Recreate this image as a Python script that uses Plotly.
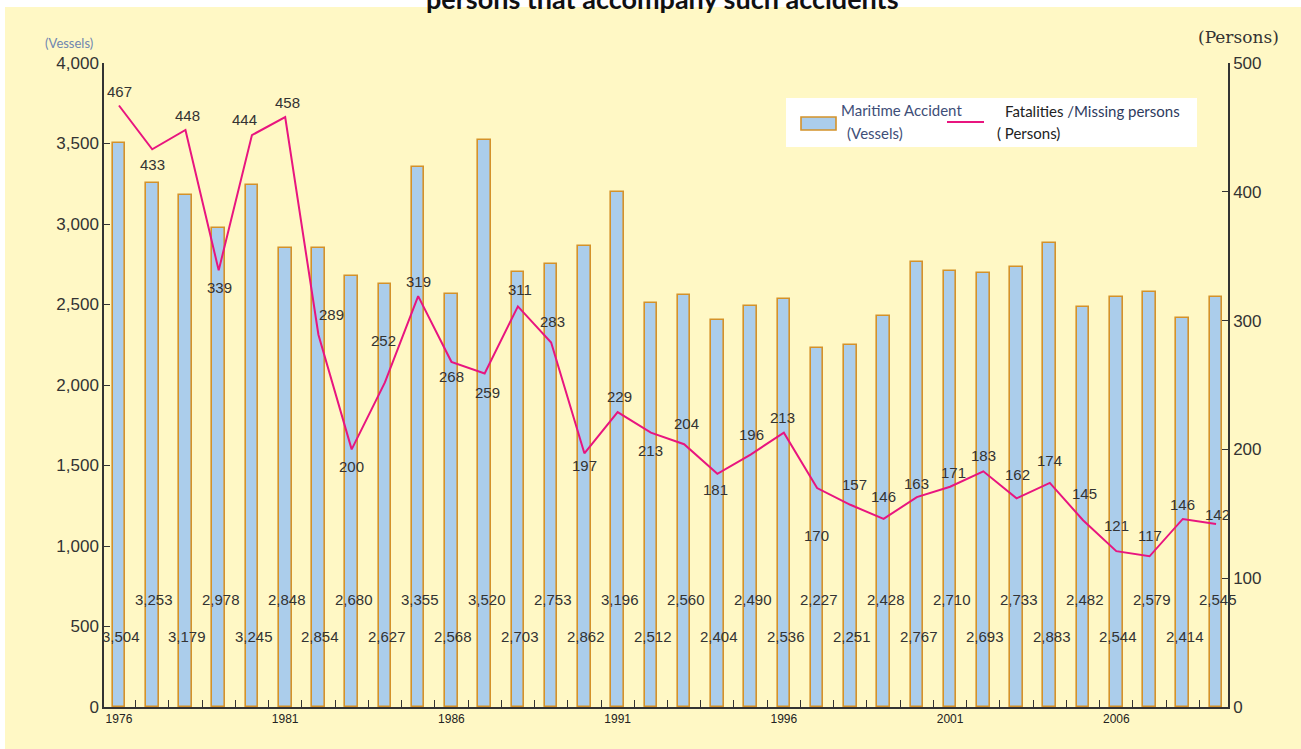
import plotly.graph_objects as go

years = list(range(1976, 2010))
vessels = [3504, 3253, 3179, 2978, 3245, 2848, 2854, 2680, 2627, 3355,
           2568, 3520, 2703, 2753, 2862, 3196, 2512, 2560, 2404, 2490,
           2536, 2227, 2251, 2428, 2767, 2710, 2693, 2733, 2883, 2482,
           2544, 2579, 2414, 2545]
fatalities = [467, 433, 448, 339, 444, 458, 289, 200, 252, 319,
              268, 259, 311, 283, 197, 229, 213, 204, 181, 196,
              213, 170, 157, 146, 163, 171, 183, 162, 174, 145,
              121, 117, 146, 142]
year_ticks = [1976, 1981, 1986, 1991, 1996, 2001, 2006]
vessel_ticks = [0, 500, 1000, 1500, 2000, 2500, 3000, 3500, 4000]
person_ticks = [0, 100, 200, 300, 400, 500]

# label placement (pixel offsets from the line point) -- layout only
fat_label_offsets = [(1, -14), (0, 15), (2, -14), (1, 17), (-7, -16), (2, -15),
                     (13, -20), (0, 17), (-1, -42), (0, -15), (0, 15), (3, 19),
                     (2, -17), (1, -21), (0, 12), (2, -16), (0, 18), (2, -21),
                     (-2, 16), (1, -20), (-1, -15), (-1, 47), (4, -20), (0, -22),
                     (0, -14), (3, -14), (0, -16), (1, -24), (0, -22), (1, -27),
                     (0, -26), (0, -21), (0, -14), (1, -10)]

L, R, T, B = 104, 73, 63, 42
W, H = 1301, 749
PW, PH = W - L - R, H - T - B


def px(x):
    return (x - L) / PW


def py(y):
    return (H - B - y) / PH


CREAM = "#FFF8C5"
BAR_FILL = "#ABCDEB"
BAR_LINE = "#D4922A"
LINE_COL = "#E8157F"
TXT = "#333333"

fig = go.Figure()
fig.add_trace(go.Bar(x=years, y=vessels, width=0.38,
                     marker=dict(color=BAR_FILL, line=dict(color=BAR_LINE, width=1.6)),
                     name="Maritime Accident (Vessels)", showlegend=False))
fig.add_trace(go.Scatter(x=years, y=fatalities, yaxis="y2", mode="lines",
                         line=dict(color=LINE_COL, width=2),
                         name="Fatalities/Missing persons (Persons)", showlegend=False))

ann = []
# bar value labels, alternating low / high rows
for i, (yr, v) in enumerate(zip(years, vessels)):
    ann.append(dict(x=yr, y=435 if i % 2 == 0 else 665, xref="x", yref="y",
                    text=f"{v:,}", showarrow=False, xshift=2,
                    xanchor="center", yanchor="middle",
                    font=dict(family="Liberation Sans, Arial", size=15, color=TXT)))
# fatality labels
for (yr, f), (dx, dy) in zip(zip(years, fatalities), fat_label_offsets):
    ann.append(dict(x=yr, y=f, xref="x", yref="y2", text=str(f), showarrow=False,
                    xshift=dx, yshift=-dy, xanchor="center", yanchor="middle",
                    font=dict(family="Liberation Sans, Arial", size=15, color=TXT)))


def pa(x, y, text, size, color, family="Lato", xanchor="center"):
    return dict(x=px(x), y=py(y), xref="paper", yref="paper", text=text,
                showarrow=False, xanchor=xanchor, yanchor="middle",
                font=dict(family=family, size=size, color=color))


# axis unit labels
ann.append(pa(69, 43, "(Vessels)", 13, "#6F86B0"))
ann.append(pa(1238, 37, "(Persons)", 17, TXT, family="DejaVu Serif"))
# cut-off title
ann.append(pa(662, -2, "<b>persons that accompany such accidents</b>", 27, "#111111"))

# custom legend
ann += [
    pa(839, 110, "Maritime Accident", 15, "#3E4E78", xanchor="left"),
    pa(845, 133, "(Vessels)", 15, "#3E4E78", xanchor="left"),
    pa(1003, 111, "<span style='color:#222'>Fatalities</span> /Missing persons", 15,
       "#2E3A5E", xanchor="left"),
    pa(995, 133, "( Persons)", 15, "#222222", xanchor="left"),
]

shapes = [
    dict(type="rect", xref="paper", yref="paper", x0=px(5), x1=px(1301), y0=py(7), y1=py(749),
         fillcolor=CREAM, line=dict(width=0), layer="below"),
    dict(type="rect", xref="paper", yref="paper", x0=px(786), x1=px(1197), y0=py(147), y1=py(98),
         fillcolor="white", line=dict(width=0), layer="below"),
    dict(type="rect", xref="paper", yref="paper", x0=px(801), x1=px(836), y0=py(130), y1=py(117),
         fillcolor=BAR_FILL, line=dict(color=BAR_LINE, width=1.6), layer="above"),
    dict(type="line", xref="paper", yref="paper", x0=px(947), x1=px(984), y0=py(122), y1=py(122),
         line=dict(color=LINE_COL, width=2), layer="above"),
]

fig.update_layout(
    width=W, height=H, margin=dict(l=L, r=R, t=T, b=B, autoexpand=False),
    paper_bgcolor="white", plot_bgcolor="rgba(0,0,0,0)",
    showlegend=False, bargap=0,
    xaxis=dict(range=[1975.55, 2009.36], tickvals=year_ticks, ticks="",
               tickfont=dict(family="Liberation Sans, Arial", size=12, color="#222"),
               showline=True, linecolor=TXT, linewidth=1.5, showgrid=False, zeroline=False,
               minor=dict(tickmode="linear", tick0=1976.5, dtick=1, ticks="inside",
                          ticklen=7, tickcolor=TXT, tickwidth=1.3, showgrid=False)),
    yaxis=dict(range=[0, 4000], tickvals=vessel_ticks, tickformat=",", ticks="inside",
               ticklen=6, tickcolor=TXT, tickwidth=1.3,
               tickfont=dict(family="Liberation Sans, Arial", size=17, color=TXT),
               showline=True, linecolor=TXT, linewidth=1.5, showgrid=False, zeroline=False),
    yaxis2=dict(range=[0, 500], tickvals=person_ticks, overlaying="y", side="right",
                ticks="inside", ticklen=6, tickcolor=TXT, tickwidth=1.3,
                tickfont=dict(family="Liberation Sans, Arial", size=17, color=TXT),
                showline=True, linecolor=TXT, linewidth=1.5, showgrid=False, zeroline=False),
    annotations=ann, shapes=shapes,
)

fig.write_html("out.html", config={"displayModeBar": False},
               post_script="document.body.style.margin='0';document.body.style.overflow='hidden';")
